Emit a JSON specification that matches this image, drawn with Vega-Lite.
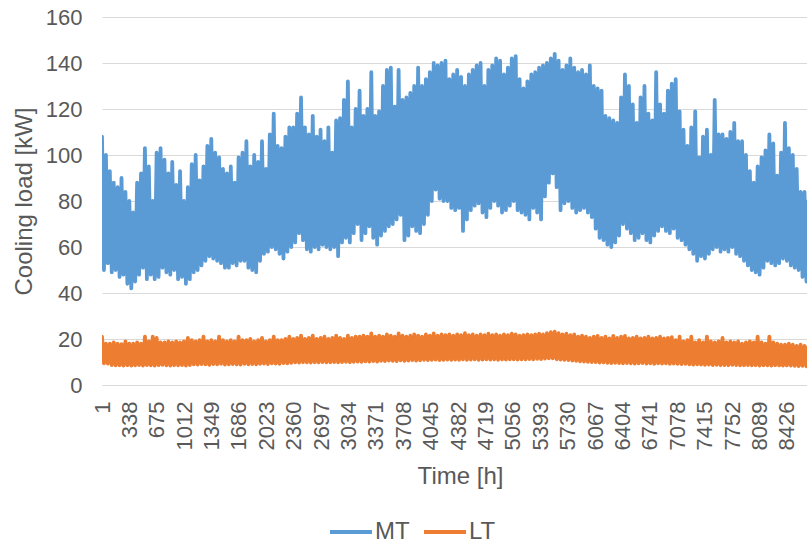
{
"$schema": "https://vega.github.io/schema/vega-lite/v6.json",
"width": 705, "height": 368,
"autosize": {"type": "none"},
"padding": {"left": 102, "top": 17, "right": 0, "bottom": 159},
"background": "white",
"data": {"values": [
{"h":1,"MT":108,"LT":21},{"h":25,"MT":50,"LT":9.4},{"h":49,"MT":100,"LT":18},{"h":73,"MT":53,"LT":9.3},{"h":97,"MT":93,"LT":18},{"h":121,"MT":49,"LT":8.7},{"h":145,"MT":88,"LT":18.5},{"h":169,"MT":50,"LT":8.5},{"h":193,"MT":86,"LT":18},{"h":217,"MT":47,"LT":8.6},
{"h":241,"MT":90,"LT":17.8},{"h":265,"MT":48,"LT":8.4},{"h":289,"MT":84,"LT":19},{"h":313,"MT":44,"LT":8.6},{"h":337,"MT":80,"LT":18},{"h":361,"MT":42,"LT":8.4},{"h":385,"MT":75,"LT":18},{"h":409,"MT":45,"LT":8.5},{"h":433,"MT":88,"LT":18.5},{"h":457,"MT":48,"LT":8.7},
{"h":481,"MT":92,"LT":18},{"h":505,"MT":51,"LT":8.4},{"h":529,"MT":103,"LT":21},{"h":553,"MT":46,"LT":8.6},{"h":577,"MT":95,"LT":19},{"h":601,"MT":48,"LT":8.5},{"h":625,"MT":80,"LT":21},{"h":649,"MT":46,"LT":8.4},{"h":673,"MT":101,"LT":20.5},{"h":697,"MT":47,"LT":8.6},
{"h":721,"MT":103,"LT":18.5},{"h":745,"MT":51,"LT":8.8},{"h":769,"MT":98,"LT":18.5},{"h":793,"MT":49,"LT":8.5},{"h":817,"MT":92,"LT":19},{"h":841,"MT":48,"LT":8.4},{"h":865,"MT":97,"LT":18.5},{"h":889,"MT":50,"LT":8.6},{"h":913,"MT":87,"LT":19},{"h":937,"MT":46,"LT":8.5},
{"h":961,"MT":93,"LT":18.5},{"h":985,"MT":47,"LT":8.7},{"h":1009,"MT":80,"LT":19},{"h":1033,"MT":44,"LT":8.4},{"h":1057,"MT":86,"LT":20.5},{"h":1081,"MT":46,"LT":8.6},{"h":1105,"MT":96,"LT":19.5},{"h":1129,"MT":49,"LT":9},{"h":1153,"MT":100,"LT":19},{"h":1177,"MT":50,"LT":8.9},
{"h":1201,"MT":89,"LT":19.5},{"h":1225,"MT":52,"LT":9.1},{"h":1249,"MT":95,"LT":21},{"h":1273,"MT":54,"LT":9},{"h":1297,"MT":104,"LT":19},{"h":1321,"MT":56,"LT":8.8},{"h":1345,"MT":107,"LT":19.5},{"h":1369,"MT":55,"LT":9.1},{"h":1393,"MT":101,"LT":19},{"h":1417,"MT":54,"LT":9},
{"h":1441,"MT":99,"LT":21},{"h":1465,"MT":53,"LT":9.2},{"h":1489,"MT":94,"LT":19.5},{"h":1513,"MT":51,"LT":8.9},{"h":1537,"MT":92,"LT":19},{"h":1561,"MT":51,"LT":9},{"h":1585,"MT":95,"LT":19.5},{"h":1609,"MT":53,"LT":9.1},{"h":1633,"MT":88,"LT":19},{"h":1657,"MT":52,"LT":9},
{"h":1681,"MT":99,"LT":21},{"h":1705,"MT":54,"LT":8.9},{"h":1729,"MT":101,"LT":19.5},{"h":1753,"MT":54,"LT":9.2},{"h":1777,"MT":106,"LT":19.5},{"h":1801,"MT":51,"LT":9},{"h":1825,"MT":95,"LT":20},{"h":1849,"MT":50,"LT":9.1},{"h":1873,"MT":100,"LT":19},{"h":1897,"MT":49,"LT":9},
{"h":1921,"MT":97,"LT":19.5},{"h":1945,"MT":54,"LT":9.2},{"h":1969,"MT":106,"LT":20.5},{"h":1993,"MT":57,"LT":9.3},{"h":2017,"MT":94,"LT":19},{"h":2041,"MT":58,"LT":9.1},{"h":2065,"MT":109,"LT":19.5},{"h":2089,"MT":60,"LT":9.4},{"h":2113,"MT":118,"LT":21},{"h":2137,"MT":59,"LT":9.3},
{"h":2161,"MT":104,"LT":19.5},{"h":2185,"MT":57,"LT":9.2},{"h":2209,"MT":103,"LT":19.5},{"h":2233,"MT":55,"LT":9.5},{"h":2257,"MT":108,"LT":20},{"h":2281,"MT":58,"LT":9.4},{"h":2305,"MT":112,"LT":21},{"h":2329,"MT":60,"LT":9.6},{"h":2353,"MT":112,"LT":20},{"h":2377,"MT":62,"LT":9.8},
{"h":2401,"MT":118,"LT":20.5},{"h":2425,"MT":66,"LT":9.7},{"h":2449,"MT":125,"LT":21.5},{"h":2473,"MT":63,"LT":9.9},{"h":2497,"MT":112,"LT":20},{"h":2521,"MT":59,"LT":9.8},{"h":2545,"MT":109,"LT":20.5},{"h":2569,"MT":58,"LT":9.7},{"h":2593,"MT":117,"LT":21.5},{"h":2617,"MT":60,"LT":9.9},
{"h":2641,"MT":108,"LT":20},{"h":2665,"MT":59,"LT":9.8},{"h":2689,"MT":111,"LT":20.5},{"h":2713,"MT":61,"LT":10},{"h":2737,"MT":106,"LT":21},{"h":2761,"MT":60,"LT":9.8},{"h":2785,"MT":112,"LT":20},{"h":2809,"MT":59,"LT":9.9},{"h":2833,"MT":101,"LT":20.5},{"h":2857,"MT":60,"LT":10},
{"h":2881,"MT":115,"LT":21.5},{"h":2905,"MT":56,"LT":9.8},{"h":2929,"MT":116,"LT":20.5},{"h":2953,"MT":62,"LT":10},{"h":2977,"MT":124,"LT":20},{"h":3001,"MT":64,"LT":10.1},{"h":3025,"MT":132,"LT":21.5},{"h":3049,"MT":62,"LT":9.9},{"h":3073,"MT":112,"LT":20.5},{"h":3097,"MT":66,"LT":10.1},
{"h":3121,"MT":120,"LT":21},{"h":3145,"MT":70,"LT":10.2},{"h":3169,"MT":128,"LT":21},{"h":3193,"MT":63,"LT":10.1},{"h":3217,"MT":117,"LT":21.5},{"h":3241,"MT":66,"LT":10.3},{"h":3265,"MT":120,"LT":21},{"h":3289,"MT":69,"LT":10.2},{"h":3313,"MT":136,"LT":22.4},{"h":3337,"MT":64,"LT":10.4},
{"h":3361,"MT":117,"LT":21},{"h":3385,"MT":61,"LT":10.2},{"h":3409,"MT":119,"LT":21.5},{"h":3433,"MT":65,"LT":10.5},{"h":3457,"MT":130,"LT":21},{"h":3481,"MT":67,"LT":10.4},{"h":3505,"MT":137,"LT":22},{"h":3529,"MT":69,"LT":10.6},{"h":3553,"MT":138,"LT":21.5},{"h":3577,"MT":70,"LT":10.5},
{"h":3601,"MT":121,"LT":21},{"h":3625,"MT":72,"LT":10.4},{"h":3649,"MT":137,"LT":22.4},{"h":3673,"MT":74,"LT":10.7},{"h":3697,"MT":124,"LT":21.5},{"h":3721,"MT":63,"LT":10.5},{"h":3745,"MT":125,"LT":21},{"h":3769,"MT":65,"LT":10.6},{"h":3793,"MT":127,"LT":21.5},{"h":3817,"MT":69,"LT":10.8},
{"h":3841,"MT":130,"LT":22},{"h":3865,"MT":67,"LT":10.6},{"h":3889,"MT":138,"LT":21.5},{"h":3913,"MT":66,"LT":10.7},{"h":3937,"MT":130,"LT":21},{"h":3961,"MT":70,"LT":10.9},{"h":3985,"MT":133,"LT":22},{"h":4009,"MT":74,"LT":10.8},{"h":4033,"MT":136,"LT":21.5},{"h":4057,"MT":80,"LT":10.9},
{"h":4081,"MT":140,"LT":22.4},{"h":4105,"MT":85,"LT":11},{"h":4129,"MT":139,"LT":21.5},{"h":4153,"MT":81,"LT":10.8},{"h":4177,"MT":140,"LT":22},{"h":4201,"MT":80,"LT":10.9},{"h":4225,"MT":141,"LT":21.7},{"h":4249,"MT":80,"LT":11},{"h":4273,"MT":133,"LT":22},{"h":4297,"MT":77,"LT":10.9},
{"h":4321,"MT":135,"LT":21.5},{"h":4345,"MT":76,"LT":11},{"h":4369,"MT":137,"LT":22},{"h":4393,"MT":77,"LT":10.9},{"h":4417,"MT":134,"LT":21.7},{"h":4441,"MT":67,"LT":11.1},{"h":4465,"MT":130,"LT":22.5},{"h":4489,"MT":72,"LT":10.9},{"h":4513,"MT":135,"LT":21.7},{"h":4537,"MT":76,"LT":11},
{"h":4561,"MT":137,"LT":22},{"h":4585,"MT":78,"LT":11.1},{"h":4609,"MT":139,"LT":21.5},{"h":4633,"MT":79,"LT":10.9},{"h":4657,"MT":140,"LT":22},{"h":4681,"MT":75,"LT":11},{"h":4705,"MT":130,"LT":21.7},{"h":4729,"MT":73,"LT":11.2},{"h":4753,"MT":137,"LT":22.3},{"h":4777,"MT":77,"LT":11},
{"h":4801,"MT":139,"LT":21.7},{"h":4825,"MT":80,"LT":11.1},{"h":4849,"MT":142,"LT":22},{"h":4873,"MT":78,"LT":10.9},{"h":4897,"MT":141,"LT":21.5},{"h":4921,"MT":75,"LT":11.1},{"h":4945,"MT":135,"LT":22},{"h":4969,"MT":76,"LT":11},{"h":4993,"MT":138,"LT":21.7},{"h":5017,"MT":78,"LT":11.2},
{"h":5041,"MT":142,"LT":22.3},{"h":5065,"MT":80,"LT":11.1},{"h":5089,"MT":143,"LT":22},{"h":5113,"MT":76,"LT":11},{"h":5137,"MT":133,"LT":21.5},{"h":5161,"MT":75,"LT":11.2},{"h":5185,"MT":129,"LT":21.7},{"h":5209,"MT":74,"LT":11.1},{"h":5233,"MT":132,"LT":22},{"h":5257,"MT":72,"LT":11.3},
{"h":5281,"MT":135,"LT":21.7},{"h":5305,"MT":77,"LT":11.2},{"h":5329,"MT":136,"LT":22},{"h":5353,"MT":75,"LT":11.4},{"h":5377,"MT":138,"LT":22.3},{"h":5401,"MT":72,"LT":11.3},{"h":5425,"MT":139,"LT":22},{"h":5449,"MT":82,"LT":11.5},{"h":5473,"MT":140,"LT":22.5},{"h":5497,"MT":88,"LT":11.6},
{"h":5521,"MT":142,"LT":23},{"h":5545,"MT":92,"LT":11.6},{"h":5569,"MT":144,"LT":23.2},{"h":5593,"MT":86,"LT":11.2},{"h":5617,"MT":141,"LT":22.5},{"h":5641,"MT":76,"LT":11},{"h":5665,"MT":137,"LT":22},{"h":5689,"MT":79,"LT":10.9},{"h":5713,"MT":139,"LT":22.3},{"h":5737,"MT":80,"LT":10.8},
{"h":5761,"MT":142,"LT":21.7},{"h":5785,"MT":77,"LT":10.6},{"h":5809,"MT":138,"LT":22},{"h":5833,"MT":75,"LT":10.5},{"h":5857,"MT":136,"LT":21},{"h":5881,"MT":76,"LT":10.3},{"h":5905,"MT":137,"LT":21.5},{"h":5929,"MT":77,"LT":10.2},{"h":5953,"MT":135,"LT":21},{"h":5977,"MT":75,"LT":10.1},
{"h":6001,"MT":139,"LT":20.5},{"h":6025,"MT":73,"LT":10},{"h":6049,"MT":130,"LT":21},{"h":6073,"MT":68,"LT":9.9},{"h":6097,"MT":129,"LT":21.3},{"h":6121,"MT":64,"LT":9.7},{"h":6145,"MT":128,"LT":20.5},{"h":6169,"MT":63,"LT":9.8},{"h":6193,"MT":117,"LT":21},{"h":6217,"MT":61,"LT":9.6},
{"h":6241,"MT":116,"LT":20.3},{"h":6265,"MT":60,"LT":9.5},{"h":6289,"MT":115,"LT":21.3},{"h":6313,"MT":62,"LT":9.6},{"h":6337,"MT":114,"LT":20.5},{"h":6361,"MT":65,"LT":9.5},{"h":6385,"MT":125,"LT":21},{"h":6409,"MT":70,"LT":9.4},{"h":6433,"MT":135,"LT":21.3},{"h":6457,"MT":68,"LT":9.5},
{"h":6481,"MT":130,"LT":20.3},{"h":6505,"MT":66,"LT":9.4},{"h":6529,"MT":122,"LT":20.5},{"h":6553,"MT":63,"LT":9.3},{"h":6577,"MT":114,"LT":21},{"h":6601,"MT":64,"LT":9.4},{"h":6625,"MT":125,"LT":20.3},{"h":6649,"MT":66,"LT":9.5},{"h":6673,"MT":130,"LT":20.5},{"h":6697,"MT":63,"LT":9.3},
{"h":6721,"MT":118,"LT":21},{"h":6745,"MT":62,"LT":9.4},{"h":6769,"MT":115,"LT":20.3},{"h":6793,"MT":65,"LT":9.2},{"h":6817,"MT":136,"LT":20.5},{"h":6841,"MT":67,"LT":9.4},{"h":6865,"MT":122,"LT":21},{"h":6889,"MT":69,"LT":9.3},{"h":6913,"MT":118,"LT":20.3},{"h":6937,"MT":67,"LT":9.4},
{"h":6961,"MT":128,"LT":20.5},{"h":6985,"MT":66,"LT":9.2},{"h":7009,"MT":131,"LT":20.8},{"h":7033,"MT":68,"LT":9.3},{"h":7057,"MT":133,"LT":19.5},{"h":7081,"MT":64,"LT":9.2},{"h":7105,"MT":119,"LT":21},{"h":7129,"MT":63,"LT":9.1},{"h":7153,"MT":111,"LT":19},{"h":7177,"MT":61,"LT":9.2},
{"h":7201,"MT":104,"LT":19.5},{"h":7225,"MT":59,"LT":9},{"h":7249,"MT":112,"LT":21},{"h":7273,"MT":57,"LT":8.9},{"h":7297,"MT":119,"LT":18.5},{"h":7321,"MT":54,"LT":9},{"h":7345,"MT":99,"LT":19.5},{"h":7369,"MT":56,"LT":8.9},{"h":7393,"MT":108,"LT":18.5},{"h":7417,"MT":55,"LT":8.8},
{"h":7441,"MT":111,"LT":21},{"h":7465,"MT":57,"LT":8.9},{"h":7489,"MT":100,"LT":19},{"h":7513,"MT":59,"LT":8.7},{"h":7537,"MT":124,"LT":18.5},{"h":7561,"MT":60,"LT":8.8},{"h":7585,"MT":109,"LT":19},{"h":7609,"MT":58,"LT":8.6},{"h":7633,"MT":109,"LT":20.5},{"h":7657,"MT":59,"LT":8.7},
{"h":7681,"MT":107,"LT":18.5},{"h":7705,"MT":58,"LT":8.6},{"h":7729,"MT":110,"LT":19},{"h":7753,"MT":60,"LT":8.8},{"h":7777,"MT":114,"LT":18.5},{"h":7801,"MT":57,"LT":8.7},{"h":7825,"MT":106,"LT":19},{"h":7849,"MT":56,"LT":8.5},{"h":7873,"MT":106,"LT":18},{"h":7897,"MT":54,"LT":8.6},
{"h":7921,"MT":100,"LT":18.5},{"h":7945,"MT":52,"LT":8.7},{"h":7969,"MT":93,"LT":19},{"h":7993,"MT":50,"LT":8.5},{"h":8017,"MT":88,"LT":18.5},{"h":8041,"MT":49,"LT":8.6},{"h":8065,"MT":95,"LT":21},{"h":8089,"MT":48,"LT":8.4},{"h":8113,"MT":99,"LT":18.5},{"h":8137,"MT":51,"LT":8.6},
{"h":8161,"MT":102,"LT":18},{"h":8185,"MT":54,"LT":8.5},{"h":8209,"MT":109,"LT":21},{"h":8233,"MT":53,"LT":8.4},{"h":8257,"MT":105,"LT":18.5},{"h":8281,"MT":52,"LT":8.6},{"h":8305,"MT":91,"LT":18},{"h":8329,"MT":53,"LT":8.5},{"h":8353,"MT":101,"LT":17.5},{"h":8377,"MT":55,"LT":8.4},
{"h":8401,"MT":114,"LT":17.5},{"h":8425,"MT":54,"LT":8.5},{"h":8449,"MT":103,"LT":18},{"h":8473,"MT":52,"LT":8.4},{"h":8497,"MT":100,"LT":17.5},{"h":8521,"MT":51,"LT":8.3},{"h":8545,"MT":94,"LT":17},{"h":8569,"MT":50,"LT":8.2},{"h":8593,"MT":84,"LT":17.5},{"h":8617,"MT":47,"LT":8.3},
{"h":8641,"MT":84,"LT":17},{"h":8665,"MT":45,"LT":8.1},{"h":8689,"MT":80,"LT":16.7},{"h":8713,"MT":46,"LT":8.2},{"h":8737,"MT":78,"LT":17}
]},
"transform": [{"fold": ["MT", "LT"], "as": ["series", "load"]}],
"mark": {"type": "line", "strokeWidth": 3.8, "clip": true, "strokeJoin": "round", "strokeCap": "round"},
"encoding": {
  "x": {"field": "h", "type": "quantitative",
    "scale": {"domain": [1, 8672], "nice": false, "zero": false},
    "axis": {"values": [1,338,675,1012,1349,1686,2023,2360,2697,3034,3371,3708,4045,4382,4719,5056,5393,5730,6067,6404,6741,7078,7415,7752,8089,8426],
      "format": "d",
      "labelAngle": -90, "title": "Time [h]", "grid": false, "ticks": false,
      "domainColor": "#D9D9D9", "domainWidth": 1, "labelPadding": 16,
      "labelFontSize": 22, "titleFontSize": 24, "labelFlush": false, "labelOverlap": false,
      "titleX": 358, "titleY": 98, "titleBaseline": "alphabetic", "titleAnchor": "middle", "titleAlign": "center"}},
  "y": {"field": "load", "type": "quantitative",
    "scale": {"domain": [0, 160], "nice": false},
    "axis": {"values": [0,20,40,60,80,100,120,140,160], "title": "Cooling load [kW]",
      "domain": false, "ticks": false, "gridColor": "#D9D9D9", "gridWidth": 1,
      "labelPadding": 20, "labelFontSize": 22, "titleFontSize": 24, "labelFlush": false,
      "titleX": -71, "titleY": 184, "titleBaseline": "alphabetic", "titleAlign": "center"}},
  "color": {"field": "series", "type": "nominal",
    "scale": {"domain": ["MT", "LT"], "range": ["#5B9BD5", "#ED7D31"]},
    "legend": {"title": null, "orient": "none", "direction": "horizontal",
      "legendX": 226, "legendY": 492, "symbolType": "stroke", "symbolSize": 1764,
      "symbolStrokeWidth": 4, "labelFontSize": 24, "labelOffset": 1, "columnPadding": 6}}
},
"config": {
  "font": "Liberation Sans",
  "axis": {"labelColor": "#595959", "titleColor": "#595959", "titleFontWeight": "normal", "labelFont": "Liberation Sans", "titleFont": "Liberation Sans"},
  "legend": {"labelColor": "#595959", "labelFont": "Liberation Sans"},
  "view": {"stroke": null}
}
}
